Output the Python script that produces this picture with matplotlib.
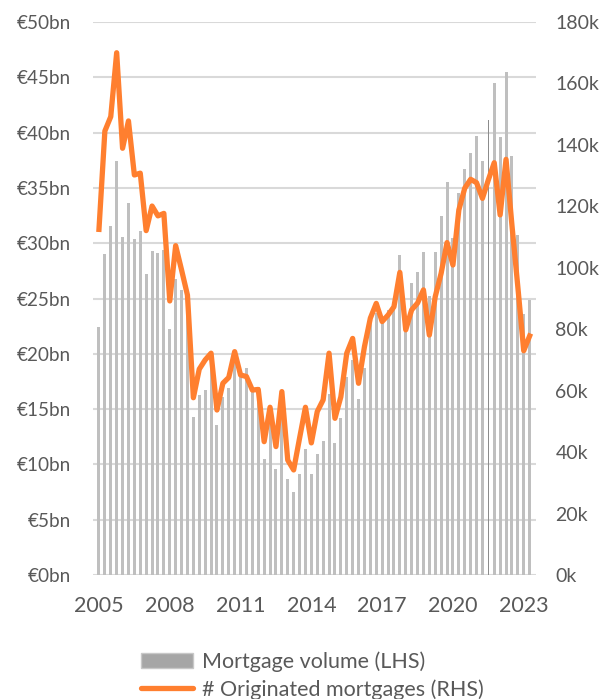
import numpy as np
import matplotlib
matplotlib.use("Agg")
import matplotlib.pyplot as plt
from matplotlib.patches import Patch
from matplotlib.lines import Line2D

plt.rcParams['font.family'] = ['Lato', 'DejaVu Sans']

# quarterly data, 2005 Q1 .. 2023 Q2
volume_bn = [22.4, 29.0, 31.6, 37.4, 30.6, 33.6, 30.4, 31.1, 27.2, 29.3, 29.1, 29.4,
             22.2, 26.8, 25.8, 25.0, 14.3, 16.3, 16.7, 19.0, 13.6, 16.1, 16.9, 19.5,
             18.3, 18.7, 17.0, 17.0, 10.5, 14.5, 9.6, 14.5, 8.65, 7.5, 9.1, 11.4,
             9.1, 10.9, 12.1, 16.4, 11.9, 14.2, 17.9, 19.4, 15.9, 18.7, 23.4, 23.7,
             23.1, 24.0, 24.7, 28.9, 22.0, 26.4, 27.4, 29.2, 25.2, 29.2, 32.5, 35.5,
             30.5, 34.5, 36.7, 38.2, 39.7, 37.4, 41.1, 44.5, 39.6, 45.5, 37.9, 30.7,
             23.6, 24.9]
originated_k = [112.5, 144.5, 149.2, 170.0, 138.9, 147.8, 130.2, 130.8, 112.1, 120.1, 116.9, 117.7,
                89.2, 107.2, 99.3, 91.1, 57.7, 67.0, 70.0, 72.2, 53.7, 62.4, 64.3, 72.7,
                65.1, 64.6, 60.2, 60.4, 43.4, 54.6, 41.8, 59.7, 37.4, 34.2, 44.5, 54.6,
                43.0, 53.2, 57.0, 72.2, 51.0, 58.0, 72.2, 77.0, 62.4, 74.3, 83.6, 88.4,
                82.5, 84.6, 87.3, 98.5, 79.8, 86.3, 88.5, 92.8, 78.1, 90.6, 98.2, 108.2,
                100.9, 118.8, 125.9, 128.8, 127.7, 122.6, 128.6, 134.2, 117.2, 135.3, 113.9, 93.8,
                73.0, 77.8]
year_ticks = [2005, 2008, 2011, 2014, 2017, 2020, 2023]
left_ticks = [0, 5, 10, 15, 20, 25, 30, 35, 40, 45, 50]
right_ticks = [0, 20, 40, 60, 80, 100, 120, 140, 160, 180]

x = 2005 + np.arange(len(volume_bn)) * 0.25

text_col = '#595959'
fig = plt.figure(figsize=[6.13, 6.99], dpi=100)
ax = fig.add_axes([93.3 / 613, 1 - 575 / 699, (536 - 93.3) / 613, (575 - 22) / 699])

colors = ['#BFBFBF'] * len(volume_bn)
widths = [0.125] * len(volume_bn)
colors[66] = '#8C8C8C'
widths[66] = 0.04
ax.bar(x, volume_bn, width=widths, color=colors, zorder=2)
ax.set_ylim(0, 50)
ax.set_xlim(2004.76, 2023.52)
ax.set_yticks(left_ticks)
ax.set_yticklabels([f'€{v}bn' for v in left_ticks])
ax.set_xticks(year_ticks)
ax.set_xticklabels([str(y) for y in year_ticks])
ax.grid(axis='y', color='#D9D9D9', linewidth=1.5, zorder=0)
ax.set_axisbelow(True)
for s in ax.spines.values():
    s.set_visible(False)
ax.tick_params(axis='y', length=0, pad=16, labelsize=13.6, labelcolor=text_col)
ax.tick_params(axis='x', length=0, pad=15, labelsize=15.5, labelcolor=text_col)

ax2 = ax.twinx()
ax2.plot(x, originated_k, color='#FF7F2F', linewidth=3.8, solid_joinstyle='round', zorder=3)
ax2.set_ylim(0, 180)
ax2.set_yticks(right_ticks)
ax2.set_yticklabels([f'{v}k' for v in right_ticks])
for s in ax2.spines.values():
    s.set_visible(False)
ax2.tick_params(axis='y', length=0, pad=14, labelsize=14, labelcolor=text_col)

handles = [Patch(facecolor='#A6A6A6', edgecolor='#C8C8C8', linewidth=1),
           Line2D([0], [0], color='#FF7F2F', linewidth=3.8, solid_capstyle='round')]
labels = ['Mortgage volume (LHS)', '# Originated mortgages (RHS)']
leg = fig.legend(handles, labels, loc='upper center', bbox_to_anchor=(0.51, 1 - 636 / 699),
                 frameon=False, fontsize=15.5, handlelength=2.4, handletextpad=0.45,
                 labelspacing=0.35, borderpad=0.2)
for t in leg.get_texts():
    t.set_color(text_col)

fig.savefig('out.png', dpi=100)
